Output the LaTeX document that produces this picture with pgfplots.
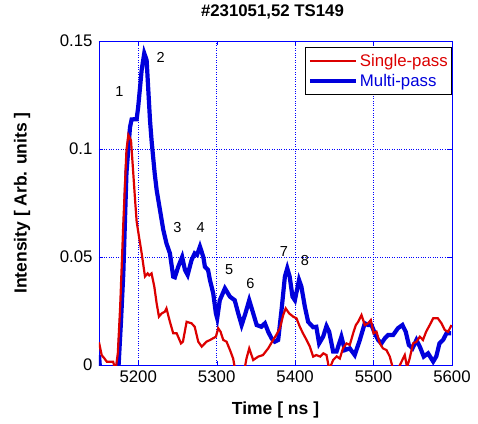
\documentclass[border=0pt]{standalone}
\usepackage{pgfplots}
\pgfplotsset{compat=1.18}
\usepackage{fontspec}
\setmainfont{Liberation Sans}
\definecolor{lred}{RGB}{220,0,0}
\definecolor{lblue}{RGB}{0,0,220}
\definecolor{gblue}{RGB}{0,0,255}
\begin{document}
\begin{tikzpicture}
\path[use as bounding box] (-99pt,-58pt) rectangle (379pt,365pt);
\begin{axis}[
  at={(0,0)}, anchor=south west,
  scale only axis, width=353pt, height=324pt,
  xmin=5150, xmax=5600, ymin=0, ymax=0.15,
  xtick={5200,5300,5400,5500,5600},
  xticklabels={5200,5300,5400,5500,5600},
  ytick={0,0.05,0.1,0.15},
  yticklabels={0,0.05,0.1,0.15},
  scaled y ticks=false,
  tick label style={font=\fontsize{16.8}{18}\selectfont, color=black},
  xticklabel style={yshift=-2pt},
  yticklabel style={xshift=-3pt},
  axis line style={gblue},
  tick style={gblue},
  tick align=inside,
  grid=major,
  major grid style={gblue, dotted, line width=0.8pt},
  title={\bfseries\#231051,52 TS149},
  title style={at={(axis description cs:0.5,1)}, anchor=center, yshift=23pt, xshift=-3pt, font=\fontsize{16.8}{18}\selectfont},
  xlabel={\bfseries Time [ ns ]},
  xlabel style={at={(axis description cs:0.5,-0.139)}, anchor=center, font=\fontsize{17.5}{20}\selectfont},
  ylabel={\bfseries Intensity [ Arb. units ]},
  ylabel style={at={(axis description cs:-0.218,0.5)}, anchor=center, font=\fontsize{17.5}{20}\selectfont},
  legend style={at={(1,1)}, anchor=north east, yshift=-6pt, draw=black, line width=0.6pt,
     font=\fontsize{16.8}{18}\selectfont, inner xsep=2pt, inner ysep=5pt, row sep=2pt},
  legend cell align=left,
  legend image code/.code={\path (-8pt,0pt) -- (38pt,0pt); \draw[#1] (0pt,0pt) -- (36pt,0pt);},
]
\addlegendimage{lred, line width=2.2pt}
\addlegendentry{\textcolor{lred}{Single-pass}}
\addlegendimage{lblue, line width=4.2pt}
\addlegendentry{\textcolor{lblue}{Multi-pass}}

\addplot[lblue, line width=4.2pt, forget plot] coordinates {
(5150,0.0046)(5152,-0.005)(5174,-0.005)(5175,0.0)(5178,0.02)(5181,0.0424)(5185,0.0889)
(5189.5,0.110)(5191.6,0.1137)(5198,0.1138)(5200,0.1196)(5204.4,0.1366)(5207.7,0.1443)
(5210.7,0.1412)(5215,0.1134)(5217,0.104)(5221,0.0887)(5223.5,0.081)(5227.7,0.0718)
(5232,0.0625)(5236,0.0563)(5240.4,0.0517)(5244.6,0.0409)(5246.7,0.0406)(5251,0.0455)
(5256,0.050)(5259.6,0.044)(5263,0.0417)(5268,0.0486)(5272,0.0517)(5275,0.051)
(5278.7,0.0548)(5283,0.050)(5285,0.0455)(5289,0.044)(5291.4,0.0394)(5295.6,0.0332)
(5299,0.0239)(5300.7,0.0216)(5304,0.030)(5310.5,0.0355)(5317,0.0316)(5323,0.030)
(5327.5,0.0239)(5331.8,0.0185)(5336,0.0231)(5341.5,0.030)(5346.6,0.0239)(5351,0.0185)
(5357,0.0177)(5361.5,0.0193)(5365.7,0.0154)(5370,0.0123)(5374,0.0108)(5378.4,0.0116)
(5382.7,0.0255)(5387,0.041)(5390,0.0448)(5393,0.041)(5396.7,0.0316)(5399.7,0.030)
(5405,0.0394)(5408,0.0363)(5412.4,0.027)(5416.6,0.020)(5423,0.0175)(5427,0.0177)
(5430.6,0.010)(5435.7,0.0131)(5440,0.018)(5443.4,0.0154)(5448.5,0.0062)(5452.8,0.0062)
(5459,0.0131)(5463.4,0.0069)(5469.7,0.0077)(5476,0.0046)(5482.5,0.0116)(5488.8,0.0193)
(5493,0.0185)(5497.4,0.0185)(5501.6,0.0147)(5505.8,0.0116)(5510,0.010)(5514.3,0.0123)
(5518.6,0.0139)(5525,0.0139)(5531,0.017)(5536.8,0.0185)(5541,0.0154)(5545,0.0093)
(5549.6,0.0077)(5554.7,0.0116)(5559,0.0085)(5564,0.0039)(5569.5,0.0054)(5576,0.0016)
(5580,0.004)(5584,0.010)(5588.6,0.0116)(5593,0.0147)(5599,0.0147)
};

\addplot[lred, line width=2.2pt, forget plot] coordinates {
(5150,0.0105)(5153.4,0.0046)(5157,0.003)(5160,0.0015)(5168,0.0015)(5170,-0.001)(5172,0.0)
(5174,0.0054)(5177,0.027)(5181,0.0656)(5185,0.0995)(5187.4,0.1065)(5190.8,0.104)
(5193.7,0.0887)(5196,0.0764)(5198,0.0664)(5201,0.0594)(5204.4,0.0517)(5208.6,0.041)
(5212,0.0424)(5214,0.0415)(5217,0.0424)(5220.5,0.0363)(5223.5,0.0285)(5226.4,0.0224)
(5230,0.0239)(5234,0.0247)(5236,0.0262)(5240.4,0.020)(5244.6,0.0147)(5249,0.0147)
(5254.5,0.010)(5257,0.0108)(5261.7,0.020)(5268,0.0193)(5272,0.0177)(5276.5,0.0108)
(5281,0.0085)(5287,0.0108)(5291.7,0.0116)(5299,0.0131)(5302,0.017)(5305,0.0154)
(5308.4,0.0116)(5312.6,0.0108)(5317,0.0069)(5321,0.003)(5324,-0.003)(5335,-0.003)
(5338,0.003)(5341.5,0.0077)(5346.6,0.0023)(5353,0.0039)(5359,0.0046)(5365.7,0.0077)
(5372,0.0116)(5376,0.0139)(5380.6,0.017)(5384.8,0.0231)(5388,0.0262)(5392.4,0.0239)
(5397.5,0.0224)(5401.8,0.0216)(5406,0.0177)(5410,0.0147)(5414.6,0.0116)(5418.8,0.0085)
(5423,0.0039)(5427,0.0046)(5432,0.0039)(5436,0.0054)(5440,0.0046)(5443.5,-0.002)
(5448.5,0.0023)(5453,0.004)(5457,0.003)(5461,0.0077)(5465.5,0.010)(5469.7,0.0093)
(5474,0.0147)(5477.4,0.0185)(5480.4,0.020)(5484.6,0.0231)(5488.8,0.0185)(5493,0.0193)
(5496.5,0.0208)(5500,0.0147)(5503.7,0.0154)(5508,0.010)(5512,0.0077)(5516.5,0.0069)
(5520.7,0.0039)(5525,-0.002)(5531,-0.002)(5535.6,0.0015)(5539.8,0.0046)(5542.7,-0.001)
(5546,0.003)(5550.4,0.010)(5554.7,0.0108)(5559,0.0131)(5563,0.0116)(5567,0.0154)
(5571.6,0.0185)(5576,0.0216)(5582,0.0216)(5586.6,0.0193)(5590.8,0.0162)(5595,0.0154)
(5599.4,0.0185)
};

\begin{scope}[font=\fontsize{14.5}{16}\selectfont]
\node at (axis cs:5176,0.1265) {1};
\node at (axis cs:5228.6,0.1424) {2};
\node at (axis cs:5250,0.0637) {3};
\node at (axis cs:5279.5,0.0637) {4};
\node at (axis cs:5316,0.044) {5};
\node at (axis cs:5343,0.0378) {6};
\node at (axis cs:5385.7,0.0525) {7};
\node at (axis cs:5412.4,0.0483) {8};
\end{scope}
\end{axis}
\end{tikzpicture}
\end{document}
